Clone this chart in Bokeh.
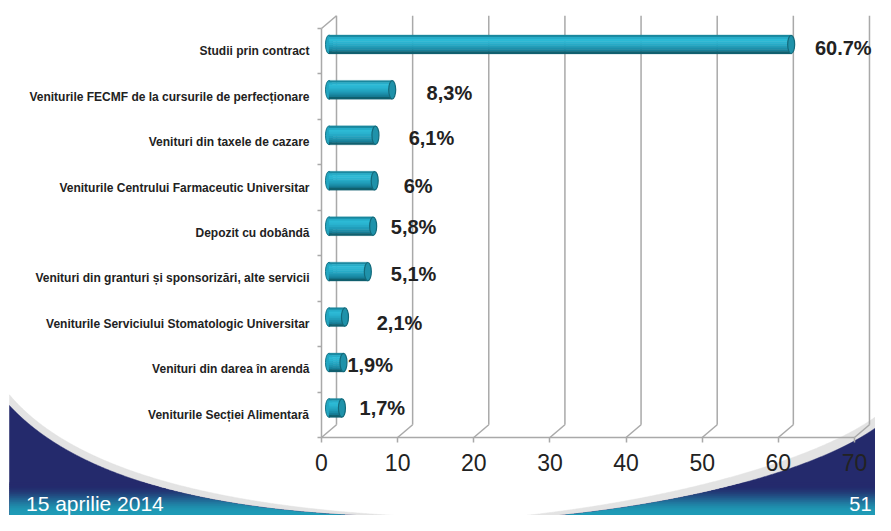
import numpy as np
from math import comb
from bokeh.plotting import figure
from bokeh.models import Range1d, LinearAxis, FixedTicker
from bokeh.core.properties import value
from bokeh.embed import file_html
from bokeh.resources import INLINE

# ---------------- data ----------------
categories = [
    "Studii prin contract",
    "Veniturile FECMF de la cursurile de perfecționare",
    "Venituri din taxele de cazare",
    "Veniturile Centrului Farmaceutic Universitar",
    "Depozit cu dobândă",
    "Venituri din granturi și sponsorizări, alte servicii",
    "Veniturile Serviciului Stomatologic Universitar",
    "Venituri din darea în arendă",
    "Veniturile Secției Alimentară",
]
values = [60.7, 8.3, 6.1, 6.0, 5.8, 5.1, 2.1, 1.9, 1.7]
value_labels = ["60.7%", "8,3%", "6,1%", "6%", "5,8%", "5,1%", "2,1%", "1,9%", "1,7%"]
x_ticks = [0, 10, 20, 30, 40, 50, 60, 70]
date_text = "15 aprilie 2014"
page_text = "51"

# ---------------- style / placement ----------------
label_x = [64.8, 13.8, 11.45, 10.8, 9.1, 9.1, 7.25, 3.4, 5.0]      # left edge of value labels (axis units)
label_dy = [0.06, 0.07, 0.08, 0.04, 0.14, 0.09, 0.01, 0.09, 0.14]   # vertical nudge (category units)

W, H = 875, 515
X0_PX, PX_PER_UNIT = 321.0, 7.614
TOP_PX, BOT_PX = 28.0, 437.0
N = len(categories)
CAT_PX = (BOT_PX - TOP_PX) / N

DXW, DYW = 15 / PX_PER_UNIT, 0.28     # 3-D depth of the walls
DX, DY = DXW / 2, 0.15                # bar position inside the depth
BH = 0.41                             # bar thickness
CAPW = 0.92                           # cylinder end-cap width

GRID = "#a9a9a9"
TXT = "#222222"
FONT = "Liberation Sans"

x_start = -X0_PX / PX_PER_UNIT
x_end = (W - X0_PX) / PX_PER_UNIT
y_low = -0.5 - (H - BOT_PX) / CAT_PX
y_high = N - 0.5 + TOP_PX / CAT_PX

p = figure(width=W, height=H, title=None,
           x_range=Range1d(x_start, x_end), y_range=Range1d(y_low, y_high),
           output_backend="svg", toolbar_location=None,
           x_axis_location=None, y_axis_location=None,
           min_border=0, outline_line_color=None,
           background_fill_color="white", border_fill_color="white")
p.xgrid.visible = False
p.ygrid.visible = False

p.extra_x_ranges = {"px": Range1d(0, W)}
p.extra_y_ranges = {"px": Range1d(H, 0)}

# ---------------- slide decoration (waves) ----------------
def squeeze(y):
    y = np.asarray(y, float)
    return np.where(y > 380, 380 + (y - 380) * (H - 380) / (531 - 380), y)

def bez(pts, n=500):
    pts = np.asarray(pts, float)
    k = len(pts) - 1
    t = np.linspace(0, 1, n)[:, None]
    c = sum(comb(k, i) * (1 - t) ** (k - i) * t ** i * pts[i] for i in range(k + 1))
    o = np.argsort(c[:, 0])
    return c[o, 0], squeeze(c[o, 1])

def shape(cx, cy, bottom=545):
    return list(cx) + [cx[-1], cx[0]], list(cy) + [bottom, bottom]

def band(cx, cy, ya, yb):
    m = cy < yb
    xs, ys = cx[m], np.maximum(cy[m], ya)
    return list(xs) + [xs[-1], xs[0]], list(ys) + [yb, yb]

lg = bez([(9, 396), (105, 524), (460, 534)])
ln = bez([(9, 408), (110, 530), (420, 533)])
rg = bez([(891, 405), (850, 455), (700, 512), (500, 534)])
rn = bez([(891, 418), (850, 465), (720, 515), (540, 533)])

xs_, ys_ = [], []
for c in (lg, rg):
    a, b = shape(*c)
    xs_.append(a); ys_.append(b)
p.patches(xs_, ys_, fill_color="#e3e3e3", line_color="#e3e3e3", line_width=0.5,
          x_range_name="px", y_range_name="px")
xs_, ys_ = [], []
for c in (ln, rn):
    a, b = shape(*c)
    xs_.append(a); ys_.append(b)
p.patches(xs_, ys_, fill_color="#242a6c", line_color="#242a6c", line_width=0.5,
          x_range_name="px", y_range_name="px")

navy = np.array([36, 42, 108]); teal = np.array([31, 155, 182])
bx, by, bc = [], [], []
g0, g1 = float(squeeze(496)), float(squeeze(527))
for ya in np.arange(g0 - 2, H + 2, 2.0):
    f = np.clip((ya - g0) / (g1 - g0), 0, 1)
    f = f * f * (3 - 2 * f)
    col = "#%02x%02x%02x" % tuple((navy + (teal - navy) * f).astype(int))
    for c in (ln, rn):
        if (c[1] < ya + 3).any():
            a, b = band(c[0], c[1], ya, ya + 3)
            bx.append(a); by.append(b); bc.append(col)
p.patches(bx, by, fill_color=bc, line_color=None, x_range_name="px", y_range_name="px")

p.text(x=[25.5], y=[503], text=[date_text], text_font=value(FONT),
       text_font_size="21px", text_color="white", text_baseline="alphabetic",
       text_align="left", x_range_name="px", y_range_name="px")
p.text(x=[871], y=[503], text=[page_text], text_font=value(FONT),
       text_font_size="20px", text_color="white", text_baseline="alphabetic",
       text_align="right", x_range_name="px", y_range_name="px")

# ---------------- 3-D walls ----------------
back_x = [v + DXW for v in x_ticks]
p.segment(x0=back_x, y0=-0.5 + DYW, x1=back_x, y1=N - 0.5 + DYW, line_color=GRID, line_width=1.5)
p.segment(x0=x_ticks, y0=-0.5, x1=back_x, y1=-0.5 + DYW, line_color=GRID, line_width=1.5)
p.segment(x0=[0], y0=[N - 0.5], x1=[DXW], y1=[N - 0.5 + DYW], line_color=GRID, line_width=1.5)

# ---------------- cylinder bars ----------------
ypos = np.array([N - 1 - i for i in range(N)], float)
yc = ypos + DY
vals = np.array(values)

p.ellipse(x=DX, y=yc, width=CAPW, height=BH, fill_color="#23a6c1",
          line_color="#167588", line_width=1)
strip_cols = ["#1a879e", "#27adc9", "#2dbad6", "#2bb5d1", "#27abc7",
              "#229fbb", "#1d91ac", "#17809a", "#10606f"]
K = len(strip_cols)
for k, col in enumerate(strip_cols):
    p.hbar(y=yc + BH / 2 - (k + 0.5) * BH / K, left=DX, right=vals + DX,
           height=BH / K * 1.15, fill_color=col, line_color=col, line_width=0.3)
p.ellipse(x=vals + DX, y=yc, width=CAPW, height=BH * 0.98, fill_color="#1f92aa",
          line_color="#136a7b", line_width=1.2)

p.text(x=label_x, y=ypos + np.array(label_dy), text=value_labels, text_font=value(FONT),
       text_font_style="bold", text_font_size="20px", text_color=TXT,
       text_baseline="middle", text_align="left")

# ---------------- axes ----------------
tick_axis = LinearAxis(fixed_location=0, ticker=FixedTicker(ticks=[k - 0.5 for k in range(N + 1)]),
                       bounds=(-0.5, N - 0.5))
tick_axis.axis_line_color = GRID
tick_axis.axis_line_width = 1.5
tick_axis.major_tick_line_color = GRID
tick_axis.major_tick_line_width = 1.5
tick_axis.major_tick_out = 4
tick_axis.major_tick_in = 0
tick_axis.minor_tick_line_color = None
tick_axis.major_label_text_color = None
tick_axis.major_label_text_font_size = "1px"
p.add_layout(tick_axis, "left")

label_axis = LinearAxis(fixed_location=0, ticker=FixedTicker(ticks=list(range(N))))
label_axis.major_label_overrides = {N - 1 - i: categories[i] for i in range(N)}
label_axis.axis_line_color = None
label_axis.major_tick_line_color = None
label_axis.minor_tick_line_color = None
label_axis.major_tick_out = 0
label_axis.major_tick_in = 0
label_axis.major_label_standoff = 12
label_axis.major_label_text_font = FONT
label_axis.major_label_text_font_style = "bold"
label_axis.major_label_text_font_size = "12px"
label_axis.major_label_text_color = TXT
p.add_layout(label_axis, "left")

xaxis = LinearAxis(fixed_location=-0.5, ticker=FixedTicker(ticks=x_ticks), bounds=(0, x_ticks[-1]))
xaxis.axis_line_color = GRID
xaxis.axis_line_width = 1.5
xaxis.major_tick_line_color = GRID
xaxis.major_tick_line_width = 1.5
xaxis.major_tick_out = 5
xaxis.major_tick_in = 0
xaxis.minor_tick_line_color = None
xaxis.major_label_standoff = 11
xaxis.major_label_text_font = FONT
xaxis.major_label_text_font_size = "23px"
xaxis.major_label_text_color = TXT
p.add_layout(xaxis, "below")

open("out.html", "w").write(file_html(p, INLINE))
